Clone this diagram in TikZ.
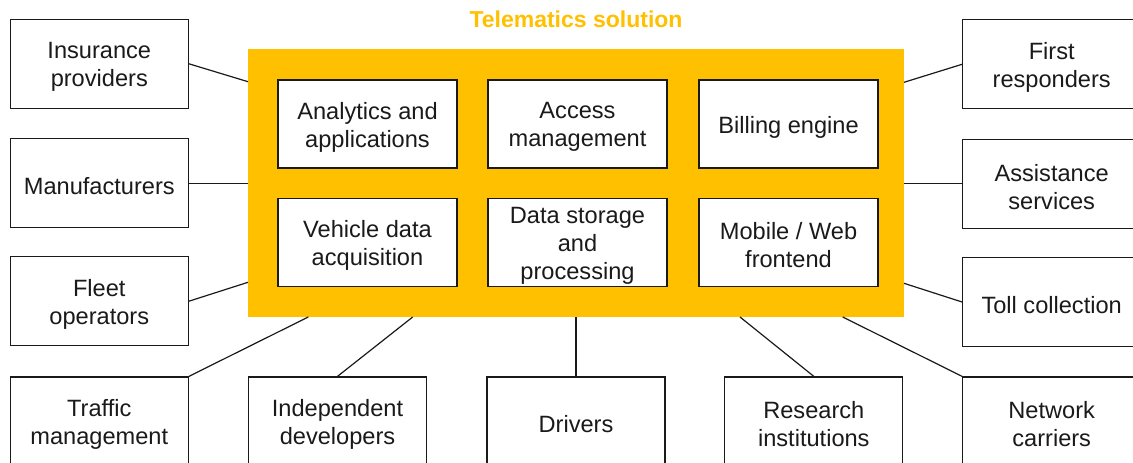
\documentclass[tikz,border=0pt]{standalone}
\usepackage{fontspec}
\setmainfont{Liberation Sans}
\definecolor{gold}{HTML}{FFC000}
\definecolor{ink}{HTML}{1A1A1A}
\tikzset{
  txt/.style={font=\fontsize{23.6}{28}\selectfont, text=ink, align=center},
  % a box with its caption set slightly below the geometric centre
  boxed/.style={draw=ink, line width=1.3pt, fill=white, inner sep=0pt,
    label={[txt, yshift=-3pt]center:#1}},
  party/.style={boxed={#1}, minimum width=178pt, minimum height=89pt},
  part/.style={boxed={#1}, minimum width=179pt, minimum height=88pt},
  link/.style={draw=ink, line width=1.2pt},
}
\begin{document}
\begin{tikzpicture}[x=1pt,y=-1pt]
\useasboundingbox (0,0) rectangle (1133,463);
\fill[white] (0,0) rectangle (1133,463);
\clip (0,0) rectangle (1133,463);

% title and the solution block
\node[font=\fontsize{23}{27}\selectfont\bfseries, text=gold, anchor=base] (title) at (576,27.5) {Telematics solution};
\node[fill=gold, minimum width=656pt, minimum height=268pt, inner sep=0pt] (sol) at (576,183) {};

% components of the solution
\node[part={Analytics and\\applications}] (a1) at (367.5,124) {};
\node[part={Access\\management}] (a2) at (577.5,124) {};
\node[part={Billing engine}] (a3) at (788.5,124) {};
\node[part={Vehicle data\\acquisition}] (b1) at (367.5,242.5) {};
\node[part={Data storage\\and\\processing}] (b2) at (577.5,242.5) {};
\node[part={Mobile / Web\\frontend}] (b3) at (788.5,242.5) {};

% stakeholders
\node[party={Insurance\\providers}] (ins) at (99.3,63.8) {};
\node[party={Manufacturers}] (man) at (99.3,183.3) {};
\node[party={Fleet\\operators}] (flt) at (99.3,301.2) {};
\node[party={Traffic\\management}] (trf) at (99.3,421.5) {};
\node[party={Independent\\developers}] (dev) at (337.5,421.5) {};
\node[party={Drivers}] (drv) at (576,421.5) {};
\node[party={Research\\institutions}] (res) at (813.8,421.5) {};
\node[party={Network\\carriers}] (net) at (1051.7,421.5) {};
\node[party={First\\responders}] (fr) at (1051.7,64.3) {};
\node[party={Assistance\\services}] (asst) at (1051.7,183.8) {};
\node[party={Toll collection}] (toll) at (1051.7,302) {};

% attachment points on the solution block
\coordinate (sIns)  at (248,81.7);
\coordinate (sFlt)  at (248,282.3);
\coordinate (sTrf)  at (308.3,317);
\coordinate (sDev)  at (412.7,317);
\coordinate (sRes)  at (740,317);
\coordinate (sNet)  at (842.7,317);
\coordinate (sToll) at (904,283.3);
\coordinate (sFr)   at (904,82.3);

% connectors
\draw[link] (ins.east) -- (sIns);
\draw[link] (man.east) -- (sol.west |- man.east);
\draw[link] (flt.east) -- (sFlt);
\draw[link] (trf.north east) -- (sTrf);
\draw[link] (dev.north) -- (sDev);
\draw[link] (drv.north) -- (sol.south);
\draw[link] (res.north) -- (sRes);
\draw[link] (net.north west) -- (sNet);
\draw[link] (toll.west) -- (sToll);
\draw[link] (asst.west) -- (sol.east |- asst.west);
\draw[link] (fr.west) -- (sFr);
\end{tikzpicture}
\end{document}
